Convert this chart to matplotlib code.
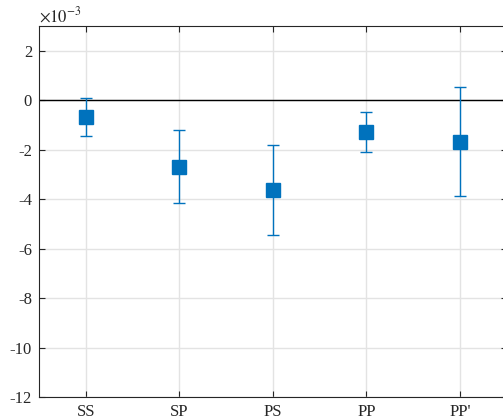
import numpy as np
import matplotlib
matplotlib.use('Agg')
import matplotlib.pyplot as plt
from matplotlib.ticker import FuncFormatter

plt.rcParams['font.family'] = ['Liberation Serif', 'DejaVu Serif']
plt.rcParams['mathtext.fontset'] = 'stix'
plt.rcParams['axes.unicode_minus'] = False

labels = ['SS', 'SP', 'PS', 'PP', "PP'"]
means = np.array([-0.69, -2.71, -3.63, -1.31, -1.70]) * 1e-3
err_low = np.array([0.78, 1.45, 1.81, 0.78, 2.19]) * 1e-3
err_high = np.array([0.78, 1.50, 1.82, 0.81, 2.23]) * 1e-3

blue = '#0072BD'
fig = plt.figure(figsize=(5.03, 4.19), dpi=100)
ax = fig.add_axes([0.0775, 0.0525, 0.93, 0.886])

x = np.arange(1, len(labels) + 1)
ax.axhline(0, color='black', linewidth=1, zorder=2)
ax.errorbar(x, means, yerr=[err_low, err_high], fmt='s', color=blue,
            markersize=10, capsize=4.5, elinewidth=1, capthick=1, zorder=3)

ax.set_xlim(0.5, 5.5)
ax.set_ylim(-12e-3, 3e-3)
ax.set_xticks(x)
ax.set_xticklabels(labels)
ax.set_yticks(np.arange(-12, 3, 2) * 1e-3)
ax.yaxis.set_major_formatter(FuncFormatter(lambda v, p: '%d' % round(v * 1e3)))
ax.text(0.0, 1.0, r'$\times 10^{-3}$', transform=ax.transAxes,
        fontsize=12, color='#262626', ha='left', va='bottom')

ax.grid(True, color='#e3e3e3', linewidth=1, zorder=0)
ax.set_axisbelow(True)
ax.tick_params(direction='in', top=True, right=True, length=4, width=0.8,
               color='#262626', labelsize=12, labelcolor='#262626', pad=5)
for s in ax.spines.values():
    s.set_color('#262626')
    s.set_linewidth(0.8)

fig.savefig('out.png', dpi=100)
